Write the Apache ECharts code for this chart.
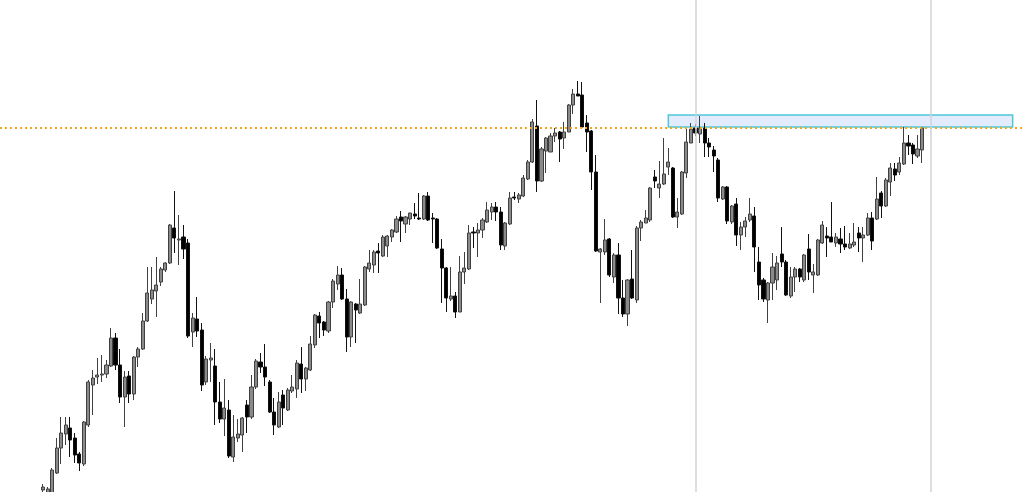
<!DOCTYPE html>
<html><head><meta charset="utf-8">
<script src="https://cdn.jsdelivr.net/npm/echarts@6/dist/echarts.min.js"></script>
<style>html,body{margin:0;padding:0;background:#fff}#c{width:1024px;height:492px}</style>
</head><body><div id="c"></div>
<script>
// OHLC values (arbitrary price units, higher = up)
const openP = [2,-2,-2,19,44,58,64,54,38,28,67,107,115,117,118,126,154,127,95,116,98,135,143,171,193,201,210,222,229,264,252,255,249,160,173,162,110,132,126,90,73,82,35,54,57,87,75,105,
130,125,110,80,65,97,82,101,103,128,113,122,147,176,170,161,190,208,217,193,155,188,179,187,223,227,241,236,246,255,260,275,268,273,278,274,273,296,274,273,243,224,193,196,180,220,223,260,
259,262,270,280,285,280,246,268,295,293,296,313,330,366,311,341,340,356,360,354,360,387,398,397,369,361,320,240,240,253,215,237,194,178,213,192,264,269,272,315,304,308,325,324,275,278,319,
349,364,358,364,349,342,332,293,305,270,288,257,265,272,276,230,212,192,209,212,238,230,196,215,223,212,243,217,217,249,256,255,249,253,248,244,247,259,254,257,274,273,299,286,310,323,320,328,349,347,336,342];
const closeP = [5,3,22,44,59,67,52,37,29,70,110,114,117,118,127,154,127,95,115,98,135,143,171,199,202,207,223,229,267,254,253,243,156,174,161,107,133,134,90,73,84,36,55,58,74,75,105,131,
125,115,80,67,90,84,102,105,129,113,124,148,177,169,162,190,211,217,193,155,190,182,188,225,229,240,239,255,256,262,273,271,275,279,276,273,296,272,273,244,224,194,196,180,220,224,259,259,
262,272,282,285,280,247,269,294,294,297,314,330,370,311,343,354,356,359,353,360,387,398,396,365,360,320,241,243,252,217,237,194,178,212,194,264,270,274,304,311,308,318,330,275,280,320,350,
363,359,364,349,345,336,294,305,271,286,257,265,271,278,245,207,193,209,225,229,230,197,215,223,215,237,220,220,252,267,254,250,255,248,245,248,250,254,257,274,251,293,286,312,324,317,329,349,346,338,343,364];
const lowP = [-3,-5,-4,18,28,47,35,29,21,26,65,77,108,110,114,125,122,89,65,89,92,125,142,170,188,175,206,220,228,239,227,233,154,145,155,101,107,110,67,69,56,34,30,50,40,59,73,103,
119,106,79,57,64,67,81,99,94,99,101,121,144,154,156,159,184,202,192,140,145,149,178,186,220,219,219,235,235,250,259,250,259,267,273,272,272,271,249,243,189,180,191,174,180,208,222,244,
235,254,269,272,271,242,242,267,292,289,295,312,329,300,310,319,340,350,330,343,360,378,396,364,340,302,240,189,237,215,209,178,175,166,193,189,251,269,270,304,294,307,317,274,264,277,314,
349,356,349,335,335,320,290,292,268,268,246,242,255,270,220,192,190,169,192,202,225,196,194,200,210,210,212,199,216,248,235,250,245,239,242,243,245,240,230,256,242,272,274,285,296,311,317,327,337,328,334,329];
const highP = [8,5,24,54,75,75,75,59,40,71,112,122,134,137,132,164,159,143,121,121,136,145,179,225,225,235,225,230,268,301,277,267,253,179,195,169,136,149,143,110,113,92,77,73,75,92,117,133,
139,148,112,94,100,102,104,117,132,145,125,156,178,180,171,191,213,226,224,203,191,189,213,226,242,242,249,257,257,263,276,281,276,279,289,299,297,300,279,274,253,225,225,200,236,240,267,265,
269,274,290,289,290,285,270,300,300,299,317,332,373,392,345,355,359,364,361,370,388,403,411,410,377,362,337,244,273,254,239,249,212,213,242,266,272,282,305,322,331,354,344,325,294,321,365,
369,368,376,369,354,346,334,306,306,287,294,270,275,294,285,245,214,210,239,236,265,232,225,225,224,238,258,228,253,271,265,290,259,264,266,259,269,265,265,279,280,315,301,314,329,329,335,365,357,349,357,365];

const resistanceLevel = 364;
const zoneBottom = 365, zoneTop = 377;
const markerBars = [144, 196];        // bars where the vertical markers sit
const zoneFromBar = 138, zoneToBar = 214;

// layout of the category axis (empty slots before / after the bars)
const leadSlots = 9, totalSlots = 226;

const categories = [];
for (let s = 0; s < totalSlots; s++) categories.push(String(s - leadSlots));
const candles = openP.map((o, i) => [i + leadSlots, o, closeP[i], lowP[i], highP[i]]);

const chart = echarts.init(document.getElementById('c'), null, {renderer: 'canvas'});
chart.setOption({
  animation: false,
  backgroundColor: '#ffffff',
  grid: {left: 0, right: 0, top: 0, bottom: 0},
  xAxis: {type: 'category', data: categories, boundaryGap: true, show: false},
  yAxis: {type: 'value', min: 0, max: 492, show: false, splitLine: {show: false}},
  series: [{
    type: 'candlestick',
    data: candles,
    encode: {x: 0, y: [1, 2, 3, 4]},
    barWidth: 3.6,
    itemStyle: {
      color: '#8a8a8a', borderColor: '#404040',
      color0: '#000000', borderColor0: '#111111',
      borderWidth: 1
    },
    markArea: {
      silent: true,
      z: 1,
      itemStyle: {color: 'rgba(222,232,255,0.85)', borderColor: '#4cc8d8', borderWidth: 1.5},
      data: [[{xAxis: zoneFromBar + leadSlots, yAxis: zoneTop}, {xAxis: zoneToBar + leadSlots, yAxis: zoneBottom}]]
    },
    markLine: {
      silent: true,
      symbol: ['none', 'none'],
      label: {show: false},
      animation: false,
      data: [
        {yAxis: resistanceLevel, lineStyle: {color: '#f5a420', type: [2, 3], width: 1.8}},
        {xAxis: markerBars[0] + leadSlots, lineStyle: {color: '#d2d3d6', type: 'solid', width: 1.5}},
        {xAxis: markerBars[1] + leadSlots, lineStyle: {color: '#d2d3d6', type: 'solid', width: 1.5}}
      ]
    }
  }]
});
</script>
</body></html>
